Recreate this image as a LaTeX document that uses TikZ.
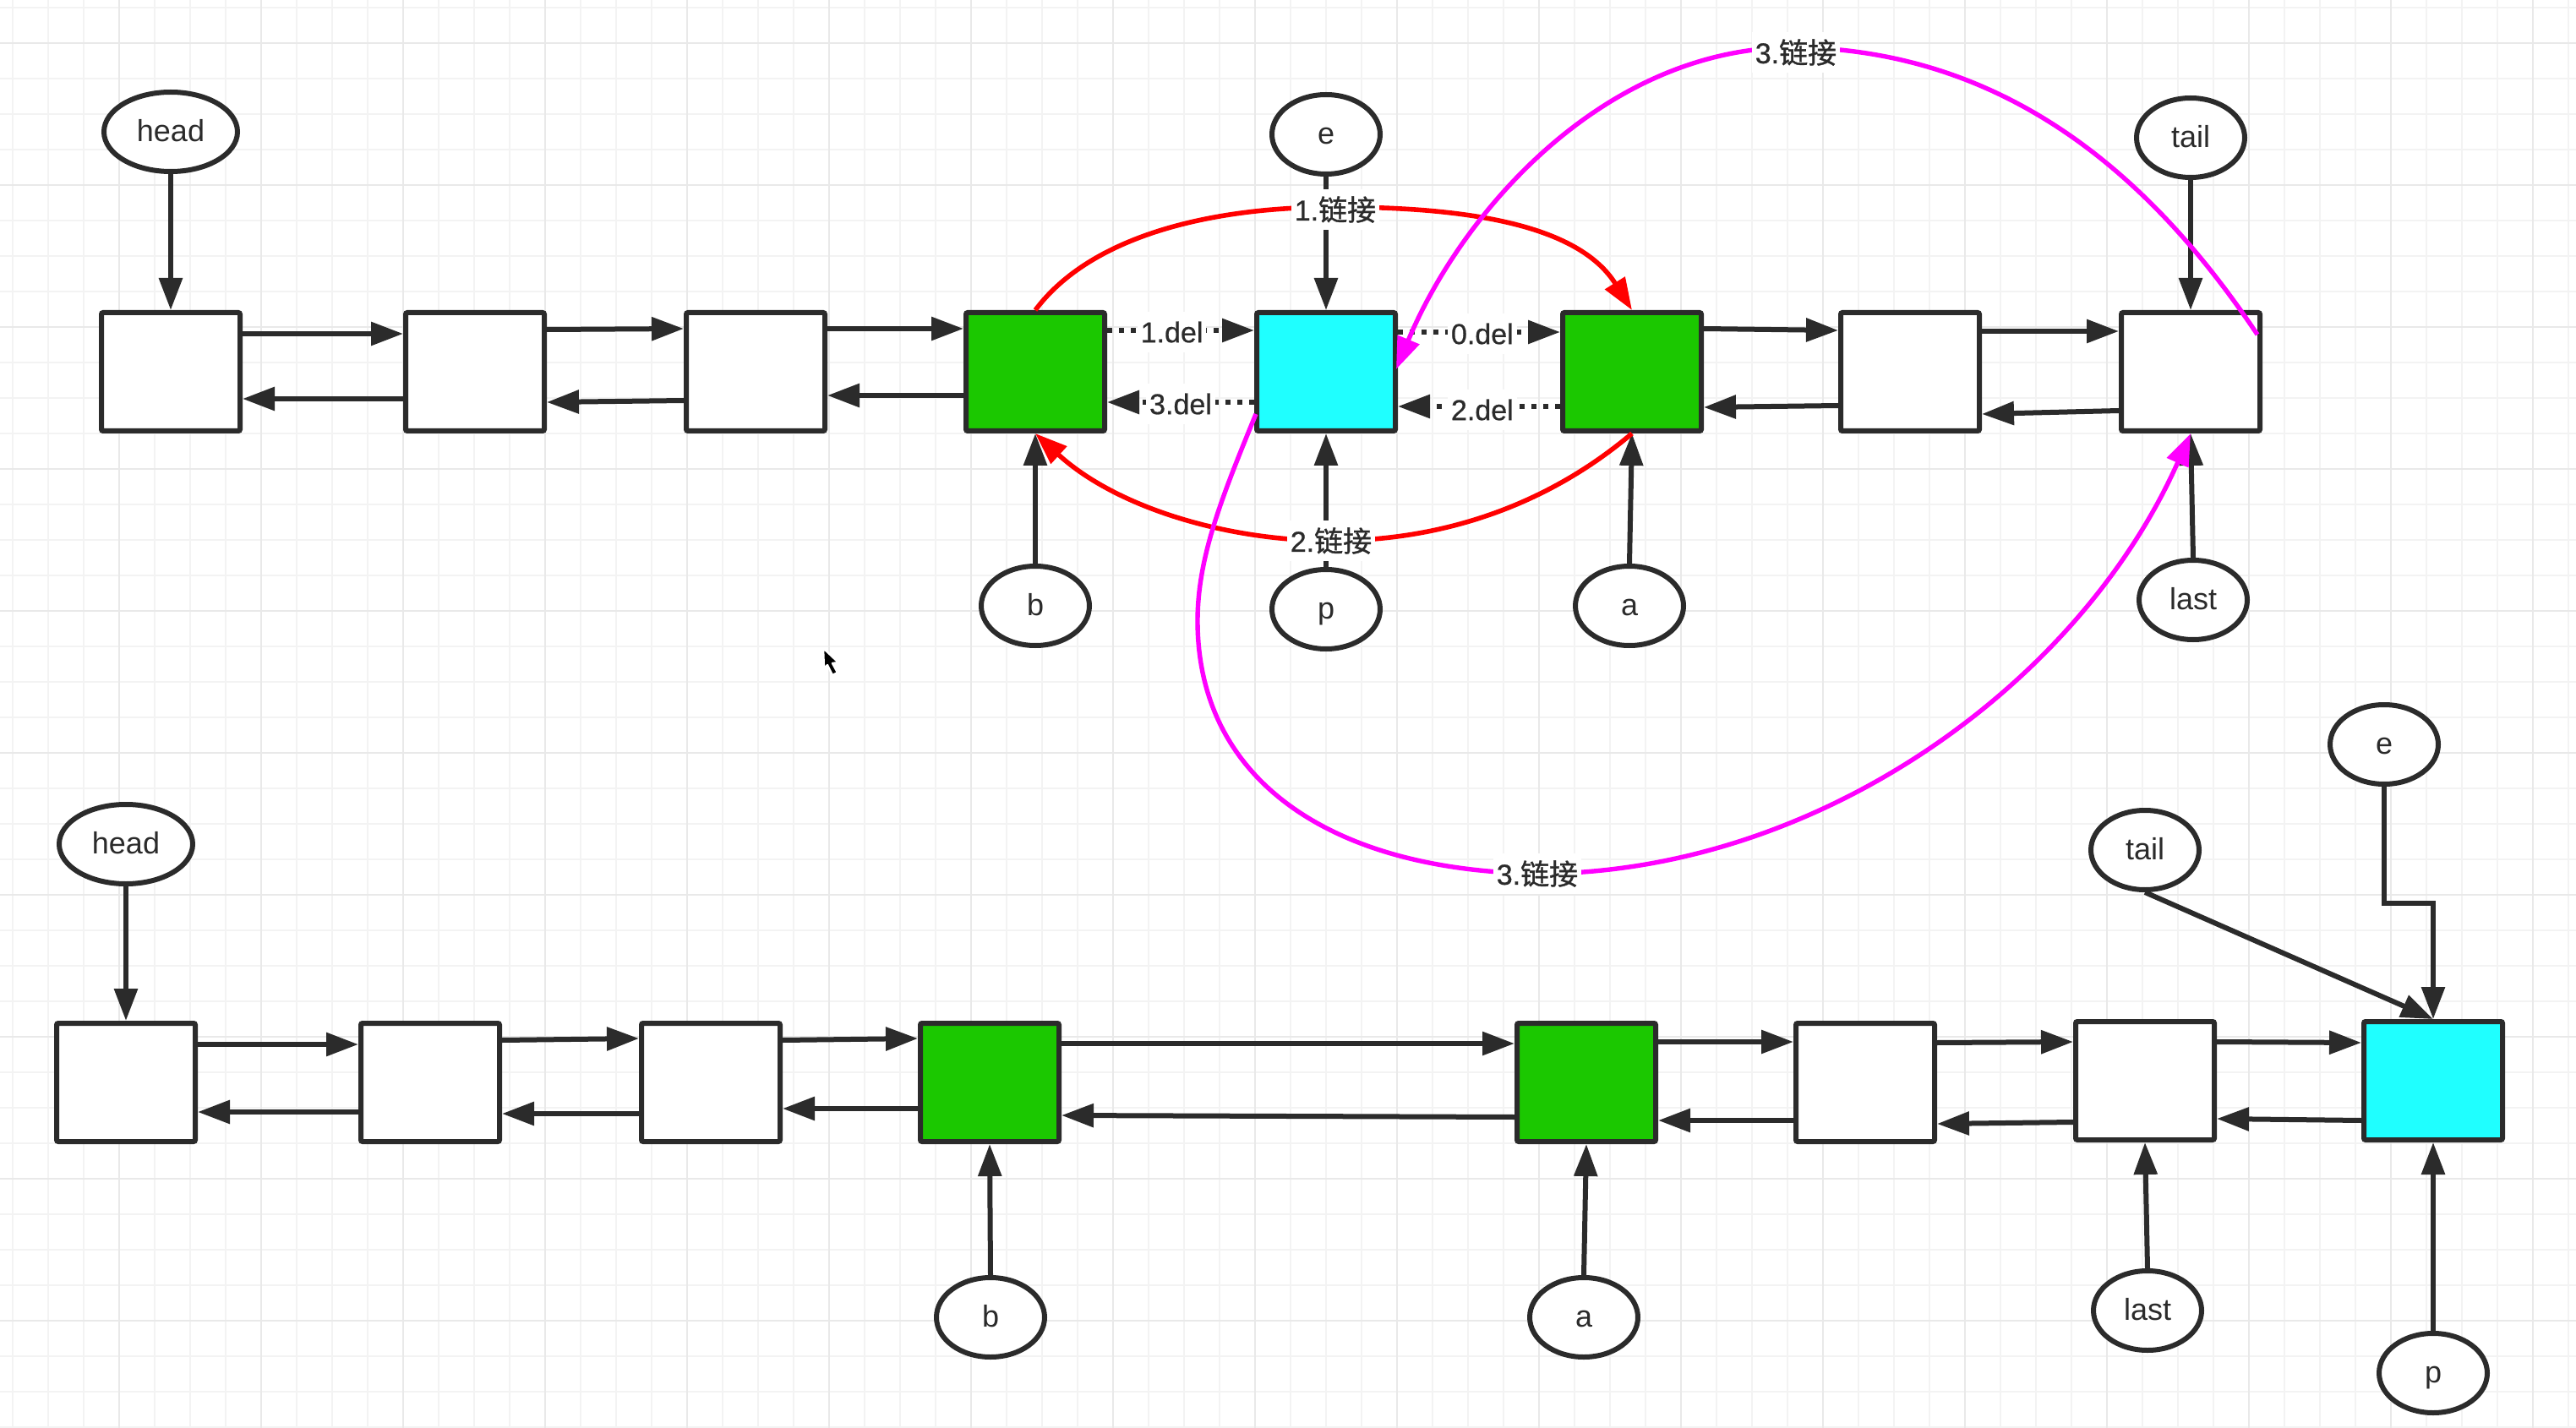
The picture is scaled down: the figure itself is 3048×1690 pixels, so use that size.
\documentclass[tikz,border=0pt]{standalone}
\usepackage{fontspec}
\setmainfont{Liberation Sans}
\newfontfamily\cjk[FakeBold=1]{Noto Sans CJK SC}
\newfontfamily\labfont[FakeBold=0.7]{Liberation Sans}
\usetikzlibrary{shapes.geometric,arrows.meta,calc}
\definecolor{ink}{HTML}{2B2B2B}
\definecolor{gridminor}{HTML}{F3F3F3}
\definecolor{gridmajor}{HTML}{E9E9E9}
\definecolor{nodegreen}{HTML}{1BC800}
\definecolor{nodecyan}{HTML}{1FFFFF}
\definecolor{puremagenta}{HTML}{FF00FF}
\definecolor{purered}{HTML}{FF0000}
\tikzset{
  box/.style={draw=ink,line width=3pt,rounded corners=1pt,minimum width=82pt,minimum height=70pt,inner sep=0pt,fill=white},
  greenbox/.style={box,fill=nodegreen},
  cyanbox/.style={box,fill=nodecyan},
  oval/.style={ellipse,draw=ink,line width=3pt,fill=white,inner sep=0pt,minimum width=64pt,minimum height=47pt,text height=11.5pt,text depth=0pt,font=\fontsize{18}{20}\selectfont,text=ink},
  headoval/.style={oval,minimum width=79pt},
  tip/.style={-{Triangle[length=19pt,width=13.5pt]}},
  conn/.style={draw=ink,line width=3pt,tip},
  dots/.style={conn,dash pattern=on 3pt off 4pt},
  redcurve/.style={draw=purered,line width=2.8pt,tip},
  magcurve/.style={draw=puremagenta,line width=2.7pt,tip},
  lab/.style={fill=white,text=ink,inner xsep=2pt,inner ysep=0pt,minimum height=24pt,font=\labfont\fontsize{17}{18}\selectfont},
  dellab/.style={lab,yshift=-1pt}
}
\newcommand{\lnkr}[4]{\draw[conn] (#1.east |- 0,#3) -- (#2.west |- 0,#4);}
\newcommand{\lnkl}[4]{\draw[conn] (#1.west |- 0,#3) -- (#2.east |- 0,#4);}
\begin{document}
\begin{tikzpicture}[x=0.5pt,y=-0.5pt]
\useasboundingbox (0,0) rectangle (3048,1690);
\fill[white] (0,0) rectangle (3048,1690);
% grid
\foreach \x in {15,57,...,3048} \draw[gridminor,line width=1pt] (\x,0) -- (\x,1690);
\foreach \y in {9,51,...,1690} \draw[gridminor,line width=1pt] (0,\y) -- (3048,\y);
\foreach \x in {141,309,...,3048} \draw[gridmajor,line width=1.2pt] (\x,0) -- (\x,1690);
\foreach \y in {51,219,...,1690} \draw[gridmajor,line width=1.2pt] (0,\y) -- (3048,\y);
% row 1 boxes
\node[box] (n1) at (202,440) {};
\node[box] (n2) at (562,440) {};
\node[box] (n3) at (894,440) {};
\node[greenbox] (n4) at (1225,440) {};
\node[cyanbox] (n5) at (1569,440) {};
\node[greenbox] (n6) at (1931,440) {};
\node[box] (n7) at (2260,440) {};
\node[box] (n8) at (2592,440) {};
% row 1 pointers
\node[headoval] (h1) at (202,156) {head};
\node[oval] (e1) at (1569,159) {e};
\node[oval] (t1) at (2592,163) {tail};
\node[oval] (b1) at (1225,717) {b};
\node[oval] (p1) at (1569,721) {p};
\node[oval] (a1) at (1928,717) {a};
\node[oval] (l1) at (2595,710) {last};
% row 2 boxes
\node[box] (m1) at (149,1281) {};
\node[box] (m2) at (509,1281) {};
\node[box] (m3) at (841,1281) {};
\node[greenbox] (m4) at (1171,1281) {};
\node[greenbox] (m5) at (1877,1281) {};
\node[box] (m6) at (2207,1281) {};
\node[box] (m7) at (2538,1279) {};
\node[cyanbox] (m8) at (2879,1279) {};
% row 2 pointers
\node[headoval] (h2) at (149,999) {head};
\node[oval] (e2) at (2821,881) {e};
\node[oval] (t2) at (2538,1006) {tail};
\node[oval] (b2) at (1172,1559) {b};
\node[oval] (a2) at (1874,1559) {a};
\node[oval] (l2) at (2541,1551) {last};
\node[oval] (p2) at (2879,1625) {p};
\coordinate (bend) at (2821,1069);
% row 1 links
\lnkr{n1}{n2}{395}{395}
\lnkl{n2}{n1}{472}{472}
\lnkr{n2}{n3}{390}{389}
\lnkl{n3}{n2}{474}{476}
\lnkr{n3}{n4}{389}{389}
\lnkl{n4}{n3}{468}{468}
\lnkr{n6}{n7}{389}{391}
\lnkl{n7}{n6}{480}{482}
\lnkr{n7}{n8}{392}{392}
\lnkl{n8}{n7}{486}{490}
\draw[dots] (n4.east |- 0,391) -- node[dellab,pos=.44] (d1) {1.del} (n5.west |- 0,391);
\draw[dots] (n5.west |- 0,476) -- node[dellab,pos=.50] (d3) {3.del} (n4.east |- 0,476);
\draw[dots] (n5.east |- 0,393) -- node[dellab,pos=.52] (d0) {0.del} (n6.west |- 0,393);
\draw[dots] (n6.west |- 0,481) -- node[dellab,pos=.48,yshift=-1pt] (d2) {2.del} (n5.east |- 0,481);
\draw[conn] (h1) -- (n1);
\draw[conn] (e1) -- (n5);
\draw[conn] (t1) -- (n8);
\draw[conn] (b1) -- (n4);
\draw[conn] (p1) -- (n5);
\draw[conn] (a1.north) -- (n6.south);
\draw[conn] (l1.north) -- (n8.south);
% row 2 links
\lnkr{m1}{m2}{1236}{1236}
\lnkl{m2}{m1}{1316}{1316}
\lnkr{m2}{m3}{1231}{1229}
\lnkl{m3}{m2}{1318}{1318}
\lnkr{m3}{m4}{1231}{1229}
\lnkl{m4}{m3}{1312}{1312}
\lnkr{m4}{m5}{1235}{1235}
\lnkl{m5}{m4}{1322}{1320}
\lnkr{m5}{m6}{1233}{1233}
\lnkl{m6}{m5}{1326}{1326}
\lnkr{m6}{m7}{1234}{1233}
\lnkl{m7}{m6}{1328}{1330}
\lnkr{m7}{m8}{1233}{1234}
\lnkl{m8}{m7}{1326}{1324}
\draw[conn] (h2) -- (m1);
\draw[conn] (b2.north) -- (m4.south);
\draw[conn] (a2.north) -- (m5.south);
\draw[conn] (l2.north) -- (m7.south);
\draw[conn] (p2) -- (m8);
\draw[conn] (t2.south) -- (m8.north);
\draw[conn] (e2.south) -- (bend) -| (m8.north);
% curves
\coordinate (c1) at (1580,245);
\coordinate (c2) at (1575,640);
\coordinate (c3) at (2125,56);
\coordinate (c4) at (1819,1034);
\draw[redcurve] (n4.north) .. controls (1290,280) and (1430,245) .. (c1) .. controls (1750,245) and (1870,270) .. (n6.north);
\draw[redcurve] (n6.south) .. controls (1840,590) and (1720,640) .. (c2) .. controls (1450,640) and (1320,600) .. (n4.south);
\coordinate (s1) at (2671,396);
\coordinate (t3) at (1652,437);
\coordinate (s2) at (1486,490);
\draw[magcurve] (s1) .. controls (2550,215) and (2380,60) .. (c3) .. controls (1900,55) and (1730,250) .. (t3);
\draw[magcurve] (s2) .. controls (1445,590) and (1417,660) .. (1417,735) .. controls (1417,920) and (1570,1030) .. (c4) .. controls (2150,1034) and (2460,810) .. (n8.south);
% labels over curves
\node[lab] (q1) at (1580,248) {1.{\cjk 链接}};
\node[lab] (q2) at (1575,640) {2.{\cjk 链接}};
\node[lab] (q3) at (2125,62) {3.{\cjk 链接}};
\node[lab] (q4) at (1819,1034) {3.{\cjk 链接}};
% mouse pointer
\draw[white,line width=1.2pt,fill=black,line join=round] (974,767) -- (992,784) -- (985,785) -- (991,796) -- (985,799) -- (979,787) -- (975,791) -- cycle;
\end{tikzpicture}
\end{document}
